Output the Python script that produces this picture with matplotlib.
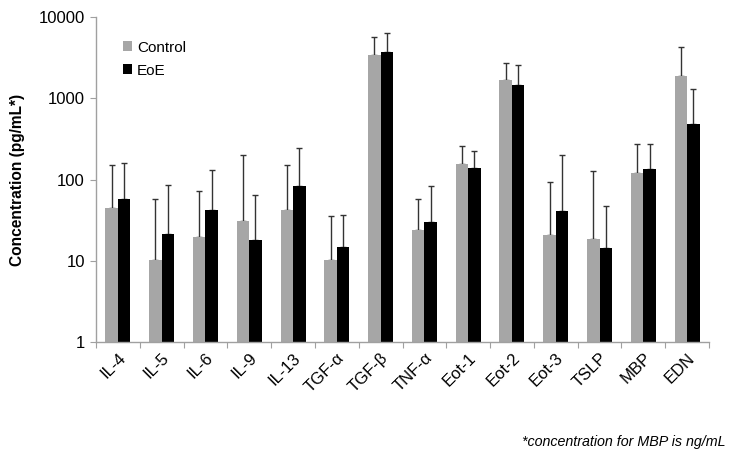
import matplotlib
matplotlib.use("Agg")
import matplotlib.pyplot as plt
import numpy as np

plt.rcParams['font.family'] = ['Liberation Sans', 'DejaVu Sans']

categories = ["IL-4", "IL-5", "IL-6", "IL-9", "IL-13", "TGF-α", "TGF-β", "TNF-α",
              "Eot-1", "Eot-2", "Eot-3", "TSLP", "MBP", "EDN"]
control = [44, 10.2, 19.6, 31, 42, 10.2, 3400, 24, 155, 1670, 21, 18.5, 120, 1870]
eoe = [57, 21.5, 42, 18, 83, 14.8, 3700, 30, 138, 1470, 41, 14.4, 134, 480]
control_top = [150, 57, 72, 200, 150, 36, 5600, 57, 257, 2700, 93, 127, 270, 4250]
eoe_top = [158, 86, 130, 64, 245, 37, 6300, 83, 222, 2600, 200, 47, 270, 1290]

W, H = 733, 454
fig = plt.figure(figsize=(W / 100, H / 100), dpi=100)
ax = fig.add_axes([96 / W, 1 - 342 / H, (709 - 96) / W, (342 - 17) / H])

x = np.arange(len(categories))
bw = 0.285
c_err = np.array(control_top) - np.array(control)
e_err = np.array(eoe_top) - np.array(eoe)
ax.bar(x - bw / 2, control, bw, color='#a6a6a6', label='Control', zorder=2)
ax.bar(x + bw / 2, eoe, bw, color='#000000', label='EoE', zorder=2)
ax.errorbar(x - bw / 2, control, yerr=[np.zeros_like(c_err), c_err], fmt='none',
            ecolor='#333333', elinewidth=1, capsize=2.5, capthick=1, zorder=1)
ax.errorbar(x + bw / 2, eoe, yerr=[np.zeros_like(e_err), e_err], fmt='none',
            ecolor='#333333', elinewidth=1, capsize=2.5, capthick=1, zorder=1)

ax.set_yscale('log')
ax.set_ylim(1, 10000)
ax.set_xlim(-0.5, len(categories) - 0.5)
ax.set_yticks([1, 10, 100, 1000, 10000])
ax.set_yticklabels(['1', '10', '100', '1000', '10000'])
ax.yaxis.set_minor_locator(matplotlib.ticker.NullLocator())

ax.set_xticks(np.arange(len(categories) + 1) - 0.5, minor=False)
ax.set_xticklabels([])
ax.set_xticks(x, minor=True)
ax.set_xticklabels(categories, minor=True, rotation=45, ha='right', va='top',
                   rotation_mode='anchor', fontsize=12)
ax.tick_params(axis='x', which='minor', length=0, pad=6)
ax.tick_params(axis='x', which='major', length=4, color='#a0a0a0', direction='out')
ax.tick_params(axis='y', length=4, color='#a0a0a0', labelsize=12, pad=4)

for s in ['top', 'right']:
    ax.spines[s].set_visible(False)
for s in ['left', 'bottom']:
    ax.spines[s].set_color('#a0a0a0')
    ax.spines[s].set_linewidth(1)

ax.set_ylabel('Concentration (pg/mL*)', fontsize=11.2, fontweight='bold', labelpad=10)

ax.legend(loc='upper left', bbox_to_anchor=(0.022, 0.97), frameon=False,
          fontsize=11, handlelength=0.6, handleheight=0.6, handletextpad=0.3,
          labelspacing=0.6)

fig.text(725 / W, 1 - 442 / H, '*concentration for MBP is ng/mL', ha='right',
         va='center', fontsize=10.3, style='italic')

fig.savefig('out.png', dpi=100)
